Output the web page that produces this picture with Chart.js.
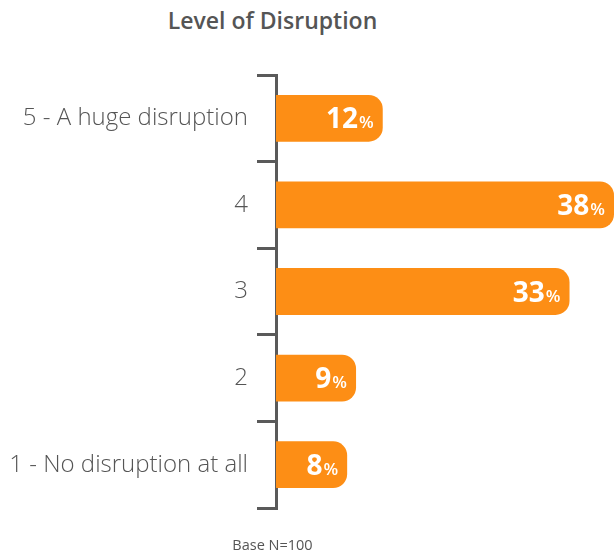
<!DOCTYPE html>
<html>
<head>
<meta charset="utf-8">
<script src="https://cdn.jsdelivr.net/npm/chart.js@4"></script>
<style>
  html, body { margin: 0; padding: 0; background: #fff; }
  #wrap { position: relative; width: 614px; height: 554px; overflow: hidden; }
  #title { position: absolute; left: 0; width: 545px; top: 4px; text-align: center;
           font-family: "Open Sans", Lato, sans-serif; font-weight: 600; font-size: 23px; color: #555; }
  #foot { position: absolute; left: 0; width: 545px; top: 535px; text-align: center;
          font-family: "Open Sans", Lato, sans-serif; font-size: 14.5px; color: #555; }
  canvas { position: absolute; left: 0; top: 0; }
</style>
</head>
<body>
<div id="wrap">
  <div id="title">Level of Disruption</div>
  <canvas id="c" width="614" height="554"></canvas>
  <div id="foot">Base N=100</div>
</div>
<script>
const categories = ["5 - A huge disruption", "4", "3", "2", "1 - No disruption at all"];
const values = [12, 38, 33, 9, 8];
const axisMax = 38;

const labelPlugin = {
  id: 'barLabels',
  afterDatasetsDraw(chart) {
    const ctx = chart.ctx;
    const meta = chart.getDatasetMeta(0);
    ctx.save();
    ctx.fillStyle = '#fff';
    ctx.textBaseline = 'alphabetic';
    meta.data.forEach((bar, i) => {
      const right = Math.min(bar.x, chart.chartArea.right) - 9;
      const y = bar.y + 10;
      ctx.font = '600 17px "Open Sans", sans-serif';
      const pw = ctx.measureText('%').width;
      ctx.textAlign = 'right';
      ctx.fillText('%', right, y);
      ctx.font = '700 28px "Open Sans", sans-serif';
      ctx.fillText(String(values[i]), right - pw - 1, y);
    });
    ctx.restore();
  }
};

new Chart(document.getElementById('c'), {
  type: 'bar',
  data: {
    labels: categories,
    datasets: [{
      data: values,
      backgroundColor: '#FD8E15',
      borderSkipped: false,
      borderRadius: { topLeft: 0, bottomLeft: 0, topRight: 14, bottomRight: 14 },
      barPercentage: 0.54,
      categoryPercentage: 1
    }]
  },
  options: {
    indexAxis: 'y',
    responsive: false,
    animation: false,
    layout: { padding: { top: 75, bottom: 46, left: 0, right: 0 } },
    plugins: { legend: { display: false }, tooltip: { enabled: false }, title: { display: false } },
    scales: {
      x: { display: false, min: 0, max: axisMax },
      y: {
        afterFit(s) { s.width = 276; },
        border: { display: true, color: '#5a5a5a', width: 3 },
        grid: { offset: true, drawOnChartArea: false, color: '#5a5a5a', lineWidth: 3, tickLength: 19 },
        ticks: { color: '#555', padding: 9, font: { family: '"Open Sans"', size: 24, weight: 300 } }
      }
    }
  },
  plugins: [labelPlugin]
});
</script>
</body>
</html>
